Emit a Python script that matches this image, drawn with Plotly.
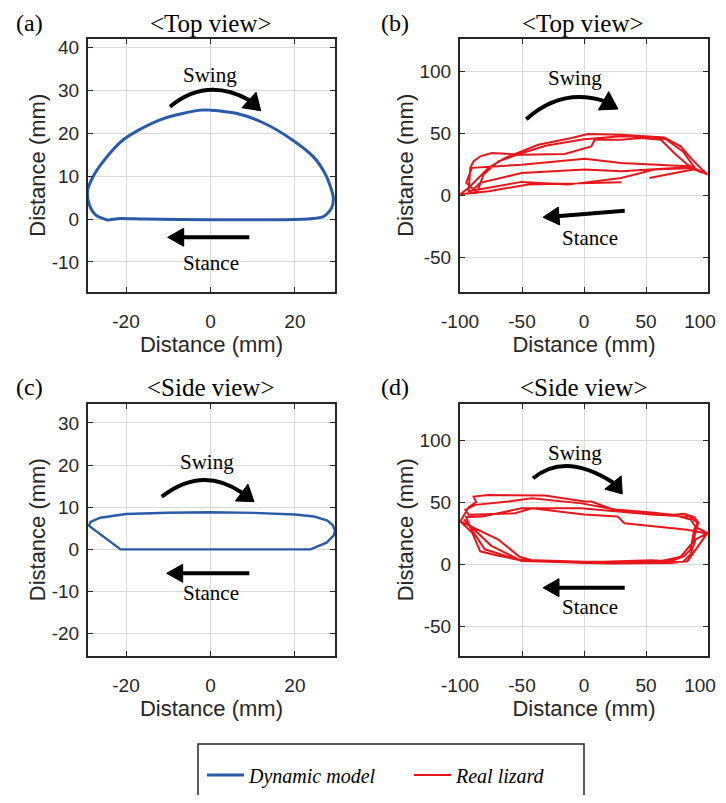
import plotly.graph_objects as go

# window is 726x803 but the page body has an 8px margin on every side
OFF = 8
W, H = 726 - 2 * OFF, 803 - 2 * OFF

# ---------------- data ----------------
# (a) Dynamic model, top view (mm)
a_x = [0, 6.3, 12.6, 19.5, 24.4, 27.2, 28.5, 29.1, 28.7, 26.8, 23.6, 15.7, 0, -15.7, -22.0, -24.4,
       -27.2, -28.7, -29.1, -27.9, -25.2, -20.5, -11.8, -2.4, 0]
a_y = [25.4, 24.6, 22.4, 18.4, 14.5, 10.5, 7.3, 5.0, 2.6, 0.6, 0.1, -0.15, -0.15, 0, 0.1, -0.2,
       1.0, 3.4, 6.6, 9.7, 13.7, 18.6, 23.2, 25.4, 25.4]

# (c) Dynamic model, side view (mm)
c_x = [0, 10.3, 20, 24.5, 27.7, 29.0, 29.5, 29.2, 27.5, 23.7, 0, -21.3, -28.8, -28.4, -26.1, -20, -10, 0]
c_y = [8.8, 8.65, 8.25, 7.8, 6.8, 5.7, 4.4, 3.3, 1.6, 0, 0, 0, 5.6, 6.5, 7.5, 8.4, 8.7, 8.8]

# (b) Real lizard, top view (mm)  -- None separates strokes
b_x = [30, -10, -45, -77, -99.7,
       -93, -86, -77, -63.6, -36.9, -10, 3.2, 30, 64.7, 78, 86, 94, 99.5,
       88.8, 56.7, 30, -12.8, -50.3, -93,
       -91.7, -89, -83.7, -78.3, -74.3, -50.3, -15.5, 5.9, 8.6, 30, 46, 62, 72.7, 83.4, 95.5,
       83.4, 30, 0.5, -50.3, -90.4,
       -95, -86.4, -81, -69, -50, -30, 0, 30, 55, 66, 80, 90,
       83.4, 30, 0.5, -50.3, -83.7, -92,
       None, 52.7, 75, 90]
b_y = [10.5, 9.5, 8.6, 3.2, 0.8,
       6, 13, 22, 30, 40.6, 46, 49.2, 48.7, 46.5, 39.3, 30, 21.9, 16.6,
       21.9, 20.6, 13.9, 8.5, 10.7, 3.2,
       22, 27.3, 31.3, 32.6, 34, 32.6, 33.2, 39.3, 44.7, 44.7, 46, 44.7, 34, 24.6, 18,
       23.3, 26, 29.4, 24.6, 22,
       10, 1.9, 16.6, 27.3, 34, 40, 45, 47.5, 47, 45, 35, 21,
       22.5, 19.3, 20.6, 17.9, 9.9, 2,
       None, 13.9, 18, 21]

# (d) Real lizard, side view (mm)
d_x = [-99.7, -90, -83.7, -70, -50.3, 3.2, 54, 70, 80.7, 86, 88.8, 92, 88.8, 80.7, 72.7, 56.7, 24.6,
       5.9, 0.5, -31.6, -77, -89, -87, -93, -99.7,
       -69, -52, -40, 0, 50, 67.4, 80, 86, 90, 99.5, 96.8, 83.4, 32.6, 27, 0, -42, -55.6, -93, -95.7,
       -87.7, -61, -42, -2, 25, 56.7, 75, 86, 90, 99.5, 83.4, 70, 20, -50, -80, -92, -95,
       -82, -50.3, -2, 56.7, 85, 92, 88, 78, 60, 0, -52, -75, -91, -97]
d_y = [34.5, 25, 10.4, 7, 3, 1.6, 3.2, 2.4, 6.4, 11.8, 27.8, 34, 38, 40.6, 39.8, 41.1, 43.8,
       50.5, 50.5, 55.3, 55.8, 54.5, 50, 46, 34.5,
       19.8, 6, 2.5, 1, 1.5, 1.6, 2, 8, 20, 25.1, 25.1, 27.8, 33, 38.5, 40, 45, 41, 39.8, 43.8,
       47.8, 50.5, 53.2, 49, 44, 41.5, 39, 36, 30, 25.1, 2.4, 1, 0.5, 2.5, 12, 30, 38,
       38.5, 45, 45, 39.8, 38.5, 33, 18, 6, 2, 2, 3.5, 15, 30, 36]

panel_labels = ["(a)", "(b)", "(c)", "(d)"]
panel_titles = ["&lt;Top view&gt;", "&lt;Top view&gt;", "&lt;Side view&gt;", "&lt;Side view&gt;"]
axis_title = "Distance (mm)"
legend_names = ["Dynamic model", "Real lizard"]

ticks_small_x = [-20, 0, 20]
ticks_a_y = [-10, 0, 10, 20, 30, 40]
ticks_c_y = [-20, -10, 0, 10, 20, 30]
ticks_big = [-100, -50, 0, 50, 100]
ticks_big_y = [-50, 0, 50, 100]

BLUE = "#2a5aa8"
RED = "#e8161c"
DARK = "#262626"

# ---------------- layout helpers (window pixel -> paper) ----------------
def px(x, y):
    return (x - OFF) / W, 1 - (y - OFF) / H

def xdom(a, b):
    return [px(a, 0)[0], px(b, 0)[0]]

def ydom(top, bottom):
    return [px(0, bottom)[1], px(0, top)[1]]

col_dom = [xdom(88, 335), xdom(460, 708)]
row_dom = [ydom(38.5, 292), ydom(403.5, 656)]

fig = go.Figure()
fig.add_trace(go.Scatter(x=a_x, y=a_y, mode="lines", line=dict(color=BLUE, width=3, shape="spline", smoothing=0.8),
                         name=legend_names[0], xaxis="x", yaxis="y", legendrank=1))
fig.add_trace(go.Scatter(x=b_x, y=b_y, mode="lines", line=dict(color=RED, width=2),
                         name=legend_names[1], xaxis="x2", yaxis="y2", legendrank=2))
fig.add_trace(go.Scatter(x=c_x, y=c_y, mode="lines", line=dict(color=BLUE, width=2.4),
                         name=legend_names[0], showlegend=False, xaxis="x3", yaxis="y3"))
fig.add_trace(go.Scatter(x=d_x, y=d_y, mode="lines", line=dict(color=RED, width=2),
                         name=legend_names[1], showlegend=False, xaxis="x4", yaxis="y4"))

tickfont = dict(family="Liberation Sans, Arial", size=19, color=DARK)
titlefont = dict(family="Liberation Sans, Arial", size=22, color=DARK)

def labels_for(vals, pad_last=False):
    out = [str(v) for v in vals]
    if pad_last:  # keep the right-most label inside the visible page
        out[-1] = out[-1] + "\u00a0\u00a0\u00a0"
    return out

def axis(dom, rng, tickvals, anchor, letter, pad_last=False):
    d = dict(domain=dom, range=rng, tickvals=tickvals, ticktext=labels_for(tickvals, pad_last),
             anchor=anchor, ticklabeloverflow="allow",
             showgrid=True, gridcolor="#d9d9d9", gridwidth=1, zeroline=False,
             showline=True, linecolor=DARK, linewidth=2, mirror="ticks",
             ticks="inside", ticklen=5, tickwidth=1.3, tickcolor=DARK,
             tickfont=tickfont, title=dict(text=axis_title, font=titlefont),
             fixedrange=True, automargin=False)
    if letter == "x":
        d["ticklabelstandoff"] = 11
        d["title"]["standoff"] = 6
    else:
        d["ticklabelstandoff"] = 3
        d["title"]["standoff"] = 0
    return d

layout = dict(width=W, height=H, margin=dict(l=0, r=0, t=0, b=0, autoexpand=False),
              plot_bgcolor="white", paper_bgcolor="white", showlegend=True)
layout["xaxis"] = axis(col_dom[0], [-29, 29.5], ticks_small_x, "y", "x")
layout["yaxis"] = axis(row_dom[0], [-17, 42.1], ticks_a_y, "x", "y")
layout["xaxis2"] = axis(col_dom[1], [-100, 100], ticks_big, "y2", "x", pad_last=True)
layout["yaxis2"] = axis(row_dom[0], [-78, 126.2], ticks_big_y, "x2", "y")
layout["xaxis3"] = axis(col_dom[0], [-29, 29.5], ticks_small_x, "y3", "x")
layout["yaxis3"] = axis(row_dom[1], [-25.3, 34.6], ticks_c_y, "x3", "y")
layout["xaxis4"] = axis(col_dom[1], [-100, 100], ticks_big, "y4", "x", pad_last=True)
layout["yaxis4"] = axis(row_dom[1], [-74, 129.5], ticks_big_y, "x4", "y")

lx, ly = px(202, 775)
layout["legend"] = dict(orientation="h", x=lx, y=ly, xanchor="left", yanchor="middle",
                        font=dict(family="Liberation Serif, Times New Roman", size=20, style="italic",
                                  color="black"),
                        bgcolor="rgba(0,0,0,0)", borderwidth=0,
                        entrywidth=155, entrywidthmode="pixels", itemwidth=37, tracegroupgap=0)
fig.update_layout(**layout)

# ---------------- annotations ----------------
serif = "Liberation Serif, Times New Roman"
anns = []
label_pos = [(29, 23), (395, 23), (29, 387), (395, 387)]
title_pos = [(211, 23), (583, 23), (211, 387), (584, 387)]

def text_ann(t, x, y, size):
    X, Y = px(x, y)
    return dict(text=t, x=X, y=Y, xref="paper", yref="paper", showarrow=False,
                xanchor="center", yanchor="middle",
                font=dict(family=serif, size=size, color="black"))

for lab, (x, y) in zip(panel_labels, label_pos):
    anns.append(text_ann(lab, x, y, 24))
for t, (x, y) in zip(panel_titles, title_pos):
    anns.append(text_ann(t, x, y, 25))

swing_pos = [(210, 75), (575, 78), (207, 462), (575, 453)]
stance_pos = [(211, 263), (590, 238), (211, 593), (590, 607)]
for (x, y) in swing_pos:
    anns.append(text_ann("Swing", x, y, 21))
for (x, y) in stance_pos:
    anns.append(text_ann("Stance", x, y, 21))
fig.update_layout(annotations=anns)

# ---------------- arrows (decorations, pixel geometry) ----------------
shapes = []

def head(base, tip, half=10):
    bx, by = base
    tx, ty = tip
    dx, dy = tx - bx, ty - by
    L = (dx * dx + dy * dy) ** 0.5
    nx, ny = -dy / L, dx / L
    p1 = (bx + nx * half, by + ny * half)
    p2 = (bx - nx * half, by - ny * half)
    pts = [px(*p1), px(*tip), px(*p2)]
    path = "M {},{} L {},{} L {},{} Z".format(pts[0][0], pts[0][1], pts[1][0], pts[1][1],
                                              pts[2][0], pts[2][1])
    shapes.append(dict(type="path", path=path, xref="paper", yref="paper",
                       fillcolor="black", line=dict(color="black", width=1)))

def arc(start, mid, end, tip):
    cx = 2 * mid[0] - (start[0] + end[0]) / 2
    cy = 2 * mid[1] - (start[1] + end[1]) / 2
    s, c, e = px(*start), px(cx, cy), px(*end)
    path = "M {},{} Q {},{} {},{}".format(s[0], s[1], c[0], c[1], e[0], e[1])
    shapes.append(dict(type="path", path=path, xref="paper", yref="paper",
                       line=dict(color="black", width=4)))
    head(end, tip, half=10.5)

def straight(tail, tip, hl=16):
    dx, dy = tip[0] - tail[0], tip[1] - tail[1]
    L = (dx * dx + dy * dy) ** 0.5
    base = (tip[0] - dx / L * hl, tip[1] - dy / L * hl)
    s, e = px(*tail), px(base[0] + dx / L * 2, base[1] + dy / L * 2)
    shapes.append(dict(type="line", x0=s[0], y0=s[1], x1=e[0], y1=e[1], xref="paper", yref="paper",
                       line=dict(color="black", width=4)))
    head(base, tip, half=9)

arc((170, 106.7), (208, 90), (249, 100), (260.7, 110.7))
arc((526.3, 119.3), (563, 99), (603.5, 100.8), (618, 109))
arc((161.7, 496.7), (202, 480), (241.7, 492.5), (254, 501.7))
arc((533, 478.3), (569, 466), (613, 482.5), (622.3, 494))

straight((249.3, 237.3), (167.7, 237.3))
straight((624.7, 210.7), (543, 217.3))
straight((249.3, 573.3), (166.7, 573.3))
straight((624.7, 587.7), (543, 587.7))

# legend frame
b0, b1 = px(198, 744), px(584, 815)
shapes.append(dict(type="rect", x0=b0[0], y0=b0[1], x1=b1[0], y1=b1[1], xref="paper", yref="paper",
                   line=dict(color=DARK, width=1.5), fillcolor="rgba(0,0,0,0)", layer="below"))

fig.update_layout(shapes=shapes)
fig.write_html("out.html")
